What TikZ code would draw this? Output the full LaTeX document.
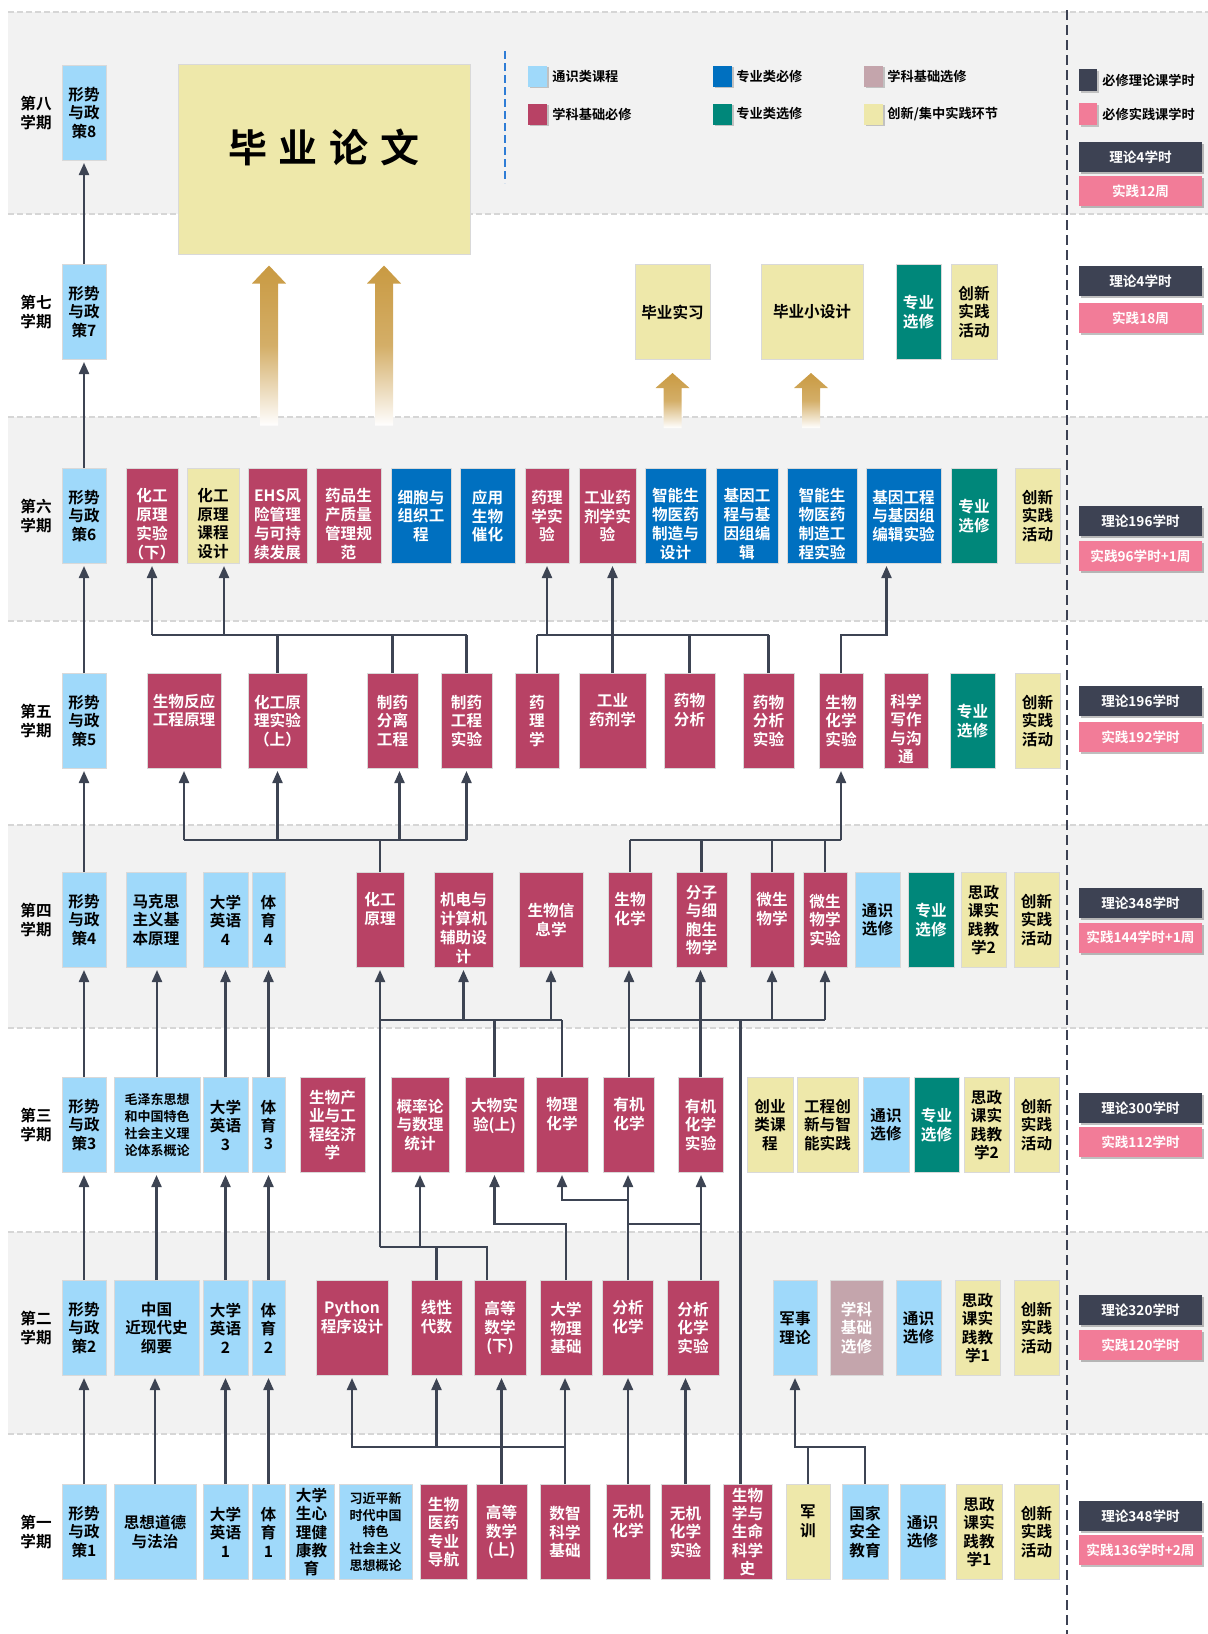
\documentclass[tikz,border=0pt]{standalone}
\usepackage{fontspec}
\setmainfont{Noto Sans CJK SC}[BoldFont={Noto Sans CJK SC Bold}]
\usepackage{tikz}
\usepackage{xcolor}
\usetikzlibrary{arrows.meta, calc, shadows}
\definecolor{GenFill}   {HTML}{9FD9FA}
\definecolor{CoreFill}  {HTML}{B84265}
\definecolor{MajFill}   {HTML}{0070C0}
\definecolor{EleFill}   {HTML}{00877A}
\definecolor{SelFill}   {HTML}{C4A5AC}
\definecolor{PracFill}  {HTML}{EEE8AA}
\definecolor{TheoryGray}{HTML}{3D4253}
\definecolor{PracPink}  {HTML}{F27C98}
\definecolor{BandGray}  {HTML}{F2F2F2}
\definecolor{SepGray}   {HTML}{D6D6D6}
\definecolor{BoxEdge}   {HTML}{D9D9D9}
\definecolor{LinkGray}  {HTML}{3D4453}
\definecolor{GoldArrow} {HTML}{C99A42}
\definecolor{LegBlue}   {HTML}{2F7DD6}
\tikzset{
  crs/.style={
    draw=BoxEdge, line width=0.5pt, inner sep=0pt,
    minimum height=47.5pt, align=center,
    font=\fontsize{7.8}{9.2}\selectfont\bfseries,
  },
  bw/.style={minimum width=#1*0.5pt},
  genbox/.style ={crs, fill=GenFill,  text=black},
  corebox/.style={crs, fill=CoreFill, text=white},
  majbox/.style ={crs, fill=MajFill,  text=white},
  elebox/.style ={crs, fill=EleFill,  text=white},
  selbox/.style ={crs, fill=SelFill,  text=white},
  pracbox/.style={crs, fill=PracFill, text=black},
  smalltxt/.style={font=\fontsize{6.5}{8.4}\selectfont\bfseries},
  semlbl/.style={align=center, inner sep=0pt,
    font=\fontsize{7.8}{9.2}\selectfont\bfseries},
  hourbox/.style={
    minimum width=61.5pt, minimum height=15pt, inner sep=0pt, text=white,
    font=\fontsize{6.8}{8}\selectfont\bfseries,
    drop shadow={shadow xshift=1pt, shadow yshift=-1pt, fill=black, opacity=0.25},
  },
  thbox/.style={hourbox, fill=TheoryGray},
  prbox/.style={hourbox, fill=PracPink},
  swatch/.style={minimum width=9.5pt, minimum height=10.5pt, inner sep=0pt,
    drop shadow={shadow xshift=0.8pt, shadow yshift=-0.8pt, fill=black, opacity=0.2}},
  legtxt/.style={anchor=west, inner sep=0pt,
    font=\fontsize{6.6}{8}\selectfont\bfseries},
  link/.style={draw=LinkGray, line width=1.1pt},
  arr/.style={link, -{Triangle[length=6pt,width=5pt]}, shorten >=1pt},
  sepline/.style={draw=SepGray, line width=1.2pt, dash pattern=on 3pt off 1.5pt},
  goldar/.style={top color=GoldArrow, bottom color=white,
    middle color=GoldArrow!80!white},
}
% text hung from the top of a course box
\newcommand{\toptxt}[1]{\vbox to 40pt{\vskip 6.3pt\hbox{\begin{tabular}[t]{@{}c@{}}#1\end{tabular}}\vss}}
% gold arrow: tip, head height, shaft length
\newcommand{\goldarrow}[3]{\shade[goldar] (#1) -- ++(17,#2) -- ++(-8,0) -- ++(0,#3)
  -- ++(-18,0) -- ++(0,-#3) -- ++(-8,0) -- cycle;}

\begin{document}
\begin{tikzpicture}[x=0.5pt, y=-0.5pt]
\useasboundingbox (0,0) rectangle (1208,1634);

% ── Bands ─────────────────────────────────────────────────────────────────
\foreach \t/\b in {12/214, 417/621, 825/1028, 1232/1434}
  \fill[BandGray] (8,\t) rectangle (1208,\b);
\foreach \y in {12,214,417,621,825,1028,1232,1434}
  \draw[sepline] (8,\y) -- (1208,\y);
\draw[TheoryGray, line width=1pt, dash pattern=on 5pt off 2.5pt] (1067,10) -- (1067,1634);
\draw[LegBlue, line width=1pt, dash pattern=on 4pt off 2pt] (505,51) -- (505,183);

% ── Semester labels / hours ───────────────────────────────────────────────
\foreach \n/\y/\t in {8/113/第八, 7/312/第七, 6/516/第六, 5/721/第五,
                      4/920/第四, 3/1125/第三, 2/1328/第二, 1/1532/第一}
  \node[semlbl] (sem\n) at (36,\y) {\t\\学期};

\foreach \n/\ya/\yb/\ta/\tb in {8/157/191/4学时/12周, 7/281/318/4学时/18周,
    6/521/556/196学时/96学时+1周, 5/701/737/196学时/192学时,
    4/903/937.5/348学时/144学时+1周, 3/1108/1142/300学时/112学时,
    2/1310/1345/320学时/120学时, 1/1516/1550/348学时/136学时+2周}{
  \node[thbox] (th\n) at (1140.5,\ya) {理论\ta};
  \node[prbox] (pr\n) at (1140.5,\yb) {实践\tb};
}

% ── Legend ────────────────────────────────────────────────────────────────
\node[swatch, fill=GenFill]  (lg1) at (537.5,76) {};
\node[legtxt] (lt1) at (552,76) {通识类课程};
\node[swatch, fill=MajFill]  (lg2) at (722.5,76) {};
\node[legtxt] (lt2) at (736,76) {专业类必修};
\node[swatch, fill=SelFill]  (lg3) at (873.5,76) {};
\node[legtxt] (lt3) at (887,76) {学科基础选修};
\node[swatch, fill=CoreFill] (lg4) at (537.5,114) {};
\node[legtxt] (lt4) at (552,114) {学科基础必修};
\node[swatch, fill=EleFill]  (lg5) at (722.5,114) {};
\node[legtxt] (lt5) at (736,114) {专业类选修};
\node[swatch, fill=PracFill] (lg6) at (873.5,114) {};
\node[legtxt] (lt6) at (887,114) {创新/集中实践环节};
\node[swatch, fill=TheoryGray, minimum width=9pt, minimum height=11pt] (rl1) at (1088,80) {};
\node[legtxt] (rt1) at (1102,80) {必修理论课学时};
\node[swatch, fill=PracPink, minimum width=9pt, minimum height=11pt] (rl2) at (1088,114) {};
\node[legtxt] (rt2) at (1102,114) {必修实践课学时};

% ── Courses ───────────────────────────────────────────────────────────────
\foreach \n/\y in {1/1532, 2/1328, 3/1125, 4/920, 5/721, 6/516, 7/312, 8/113}
  \node[genbox, bw=44] (p\n) at (84,\y) {形势\\与政\\策\n};

% semester 8 / 7
\node[pracbox, bw=292, minimum height=95pt, text depth=13pt,
      font=\fontsize{19.5}{22}\selectfont\bfseries] (lw) at (324,159)
  {毕\kern6pt 业\kern6pt 论\kern6pt 文};
\node[pracbox, bw=75]  (sx)  at (672.5,312) {毕业实习};
\node[pracbox, bw=102] (xsj) at (812,312)   {毕业小设计};
\node[elebox,  bw=45]  (zx7) at (918.5,312) {专业\\选修};
\node[pracbox, bw=46]  (cx7) at (974,312)   {创新\\实践\\活动};

% semester 6
\node[corebox, bw=52] (hgx)   at (152,516)    {\toptxt{化工\\原理\\实验\\（下）}};
\node[pracbox, bw=52] (hgk)   at (213,516)    {\toptxt{化工\\原理\\课程\\设计}};
\node[corebox, bw=59] (ehs)   at (277.5,516)  {\toptxt{EHS风\\险管理\\与可持\\续发展}};
\node[corebox, bw=65] (ypz)   at (348.5,516)  {\toptxt{药品生\\产质量\\管理规\\范}};
\node[majbox,  bw=60] (xbz)   at (421,516)    {细胞与\\组织工\\程};
\node[majbox,  bw=55] (yysw)  at (487.5,516)  {应用\\生物\\催化};
\node[corebox, bw=44] (ylsy)  at (547,516)    {药理\\学实\\验};
\node[corebox, bw=57] (gysy)  at (607.5,516)  {工业药\\剂学实\\验};
\node[majbox,  bw=61] (znsj)  at (675.5,516)  {\toptxt{智能生\\物医药\\制造与\\设计}};
\node[majbox,  bw=62] (jyg)   at (747,516)    {\toptxt{基因工\\程与基\\因组编\\辑}};
\node[majbox,  bw=70] (znsy)  at (822,516)    {\toptxt{智能生\\物医药\\制造工\\程实验}};
\node[majbox,  bw=75] (jygsy) at (903.5,516)  {基因工程\\与基因组\\编辑实验};
\node[elebox,  bw=46] (zx6)   at (974,516)    {专业\\选修};
\node[pracbox, bw=45] (cx6)   at (1037.5,516) {创新\\实践\\活动};

% semester 5
\node[corebox, bw=74] (swfy) at (184,721)    {\toptxt{生物反应\\工程原理}};
\node[corebox, bw=59] (hgs)  at (277.5,721)  {化工原\\理实验\\（上）};
\node[corebox, bw=51] (zyfl) at (392.5,721)  {制药\\分离\\工程};
\node[corebox, bw=51] (zygc) at (466.5,721)  {制药\\工程\\实验};
\node[corebox, bw=44] (ylx)  at (537,721)    {药\\理\\学};
\node[corebox, bw=67] (gyyj) at (612.5,721)  {\toptxt{工业\\药剂学}};
\node[corebox, bw=51] (ywfx) at (689.5,721)  {\toptxt{药物\\分析}};
\node[corebox, bw=51] (ywsy) at (768.5,721)  {药物\\分析\\实验};
\node[corebox, bw=44] (shsy) at (841,721)    {生物\\化学\\实验};
\node[corebox, bw=44] (kxxz) at (906,721)    {\toptxt{科学\\写作\\与沟\\通}};
\node[elebox,  bw=45] (zx5)  at (972.5,721)  {专业\\选修};
\node[pracbox, bw=45] (cx5)  at (1037.5,721) {创新\\实践\\活动};

% semester 4
\node[genbox,  bw=60] (mks)  at (156,920)    {马克思\\主义基\\本原理};
\node[genbox,  bw=45] (yy4)  at (225.5,920)  {大学\\英语\\4};
\node[genbox,  bw=33] (ty4)  at (268.5,920)  {体\\育\\4};
\node[corebox, bw=48] (hgyl) at (380,920)    {\toptxt{化工\\原理}};
\node[corebox, bw=59] (jd)   at (463.5,920)  {\toptxt{机电与\\计算机\\辅助设\\计}};
\node[corebox, bw=64] (sxx)  at (551,920)    {生物信\\息学};
\node[corebox, bw=44] (shhx) at (630,920)    {\toptxt{生物\\化学}};
\node[corebox, bw=51] (fzxb) at (701.5,920)  {分子\\与细\\胞生\\物学};
\node[corebox, bw=44] (wsw)  at (772,920)    {\toptxt{微生\\物学}};
\node[corebox, bw=44] (wsy)  at (825,920)    {微生\\物学\\实验};
\node[genbox,  bw=45] (tx4)  at (877.5,920)  {通识\\选修};
\node[elebox,  bw=46] (zx4)  at (931,920)    {专业\\选修};
\node[pracbox, bw=45] (sz4)  at (983.5,920)  {思政\\课实\\践教\\学2};
\node[pracbox, bw=45] (cx4)  at (1036.5,920) {创新\\实践\\活动};

% semester 3
\node[genbox, bw=86, smalltxt] (mzd) at (157,1125)
  {毛泽东思想\\和中国特色\\社会主义理\\论体系概论};
\node[genbox,  bw=45] (yy3)  at (225.5,1125)  {大学\\英语\\3};
\node[genbox,  bw=33] (ty3)  at (268.5,1125)  {体\\育\\3};
\node[corebox, bw=65] (swcy) at (332.5,1125)  {生物产\\业与工\\程经济\\学};
\node[corebox, bw=58] (gll)  at (420,1125)    {概率论\\与数理\\统计};
\node[corebox, bw=59] (dwsy) at (494.5,1125)  {\toptxt{大物实\\验(上)}};
\node[corebox, bw=52] (wlhx) at (562,1125)    {\toptxt{物理\\化学}};
\node[corebox, bw=51] (yjhx) at (629,1125)    {\toptxt{有机\\化学}};
\node[corebox, bw=45] (yjsy) at (700.5,1125)  {有机\\化学\\实验};
\node[pracbox, bw=46] (cy)   at (770,1125)    {创业\\类课\\程};
\node[pracbox, bw=61] (gccx) at (827.5,1125)  {工程创\\新与智\\能实践};
\node[genbox,  bw=46] (tx3)  at (886,1125)    {通识\\选修};
\node[elebox,  bw=45] (zx3)  at (936.5,1125)  {专业\\选修};
\node[pracbox, bw=45] (sz3)  at (986.5,1125)  {思政\\课实\\践教\\学2};
\node[pracbox, bw=45] (cx3)  at (1036.5,1125) {创新\\实践\\活动};

% semester 2
\node[genbox,  bw=85] (zgjd) at (156.5,1328)  {中国\\近现代史\\纲要};
\node[genbox,  bw=45] (yy2)  at (225.5,1328)  {大学\\英语\\2};
\node[genbox,  bw=33] (ty2)  at (268.5,1328)  {体\\育\\2};
\node[corebox, bw=72] (py)   at (352,1328)    {\toptxt{Python\\程序设计}};
\node[corebox, bw=51] (xxds) at (436.5,1328)  {\toptxt{线性\\代数}};
\node[corebox, bw=52] (gsx)  at (500,1328)    {高等\\数学\\(下)};
\node[corebox, bw=52] (dwl)  at (566,1328)    {大学\\物理\\基础};
\node[corebox, bw=51] (fxhx) at (628,1328)    {\toptxt{分析\\化学}};
\node[corebox, bw=52] (fxsy) at (693,1328)    {分析\\化学\\实验};
\node[genbox,  bw=44] (js)   at (795,1328)    {军事\\理论};
\node[selbox,  bw=53] (xkxx) at (856.5,1328)  {学科\\基础\\选修};
\node[genbox,  bw=45] (tx2)  at (918.5,1328)  {通识\\选修};
\node[pracbox, bw=45] (sz2)  at (977.5,1328)  {思政\\课实\\践教\\学1};
\node[pracbox, bw=45] (cx2)  at (1036.5,1328) {创新\\实践\\活动};

% semester 1
\node[genbox,  bw=82] (sxdd) at (155,1532)    {思想道德\\与法治};
\node[genbox,  bw=45] (yy1)  at (225.5,1532)  {大学\\英语\\1};
\node[genbox,  bw=33] (ty1)  at (268.5,1532)  {体\\育\\1};
\node[genbox,  bw=45] (xlj)  at (311.5,1532)  {大学\\生心\\理健\\康教\\育};
\node[genbox, bw=73, smalltxt] (xjp) at (375.5,1532)
  {习近平新\\时代中国\\特色\\社会主义\\思想概论};
\node[corebox, bw=47] (dh)   at (443.5,1532)  {生物\\医药\\专业\\导航};
\node[corebox, bw=51] (gss)  at (501.5,1532)  {高等\\数学\\(上)};
\node[corebox, bw=50] (szkx) at (565,1532)    {数智\\科学\\基础};
\node[corebox, bw=44] (wjhx) at (628,1532)    {\toptxt{无机\\化学}};
\node[corebox, bw=49] (wjsy) at (685.5,1532)  {无机\\化学\\实验};
\node[corebox, bw=49] (swsm) at (747.5,1532)  {生物\\学与\\生命\\科学\\史};
\node[pracbox, bw=44] (jx)   at (808,1532)    {\toptxt{军\\训}};
\node[genbox,  bw=46] (gjaq) at (865,1532)    {国家\\安全\\教育};
\node[genbox,  bw=45] (tx1)  at (922.5,1532)  {通识\\选修};
\node[pracbox, bw=46] (sz1)  at (979,1532)    {思政\\课实\\践教\\学1};
\node[pracbox, bw=45] (cx1)  at (1036.5,1532) {创新\\实践\\活动};

% ── Connectors ────────────────────────────────────────────────────────────
\foreach \a/\b in {p1/p2, p2/p3, p3/p4, p4/p5, p5/p6, p6/p7, p7/p8,
                   sxdd/zgjd, zgjd/mzd, mzd/mks,
                   yy1/yy2, yy2/yy3, yy3/yy4, ty1/ty2, ty2/ty3, ty3/ty4}
  \draw[arr] (\a.north) -- (\a.north |- \b.south);

% semester 1 -> 2
\coordinate (b12) at (0,1447);
\draw[arr] (szkx.north) |- (py.south |- b12) -- (py.south);
\draw[arr] (szkx.north |- b12) -| (xxds.south);
\draw[arr] (szkx.north) -- (szkx.north |- dwl.south);
\draw[arr] (gss.north) -- (gss.north |- gsx.south);
\draw[arr] (wjhx.north) -- (wjhx.north |- fxhx.south);
\draw[arr] (wjsy.north) -- (wjsy.north |- fxsy.south);
\draw[arr] (jx.north) |- (js.south |- b12) -- (js.south);
\draw[link] (gjaq.north) |- (jx.north |- b12);

% semester 2 -> 3
\coordinate (b23a) at (0,1247);
\coordinate (b23b) at (0,1224);
\coordinate (b23c) at (0,1200);
\coordinate (gsxtop)  at ($(gsx.north)+(-13,0)$);
\coordinate (fxsytop) at ($(fxsy.north)+(8,0)$);
\draw[link] (gsxtop) |- (hgyl.south |- b23a);
\draw[link] (xxds.north) -- (xxds.north |- b23a);
\draw[arr] (gll.south |- b23a) -- (gll.south);
\draw[arr] (hgyl.south |- b23a) -- (hgyl.south);
\draw[arr] (dwl.north) |- (dwsy.south |- b23b) -- (dwsy.south);
\draw[arr] (fxhx.north) -- (fxhx.north |- yjhx.south);
\draw[arr] (fxhx.north |- b23c) -| (wlhx.south);
\draw[arr] (fxsytop) -- (fxsytop |- yjsy.south);
\draw[link] (fxhx.north |- b23b) -- (fxsytop |- b23b);

% semester 3 -> 4
\coordinate (b34) at (0,1020);
\coordinate (swsmtop) at ($(swsm.north)+(-7,0)$);
\draw[link] (hgyl.south |- b34) -- (wlhx.north |- b34);
\draw[link] (dwsy.north) -- (dwsy.north |- b34);
\draw[link] (wlhx.north) -- (wlhx.north |- b34);
\draw[arr] (jd.south |- b34) -- (jd.south);
\draw[arr] (sxx.south |- b34) -- (sxx.south);
\draw[arr] (yjhx.north) -- (yjhx.north |- shhx.south);
\draw[arr] (yjsy.north) -- (yjsy.north |- fzxb.south);
\draw[link] (swsmtop) -- (swsmtop |- b34);
\draw[link] (yjhx.north |- b34) -- (wsy.south |- b34);
\draw[arr] (wsw.south |- b34) -- (wsw.south);
\draw[arr] (wsy.south |- b34) -- (wsy.south);

% semester 4 -> 5
\coordinate (b45) at (0,840);
\coordinate (zyflbot) at ($(zyfl.south)+(7,0)$);
\draw[link] (hgyl.north) -- (hgyl.north |- b45);
\draw[link] (swfy.south |- b45) -- (zygc.south |- b45);
\foreach \t in {swfy, hgs, zygc}
  \draw[arr] (\t.south |- b45) -- (\t.south);
\draw[arr] (zyflbot |- b45) -- (zyflbot);
\foreach \s in {shhx, fzxb, wsw, wsy}
  \draw[link] (\s.north) -- (\s.north |- b45);
\draw[link] (shhx.north |- b45) -- (shsy.south |- b45);
\draw[arr] (shsy.south |- b45) -- (shsy.south);

% semester 5 -> 6
\coordinate (b56) at (0,635);
\coordinate (hgkbot) at ($(hgk.south)+(11,0)$);
\coordinate (jygbot) at ($(jygsy.south)+(-17,0)$);
\foreach \s in {hgs, zyfl, zygc, ylx, ywfx, ywsy}
  \draw[link] (\s.north) -- (\s.north |- b56);
\draw[link] (hgx.south |- b56) -- (zygc.north |- b56);
\draw[link] (ylx.north |- b56) -- (ywsy.north |- b56);
\draw[arr] (hgx.south |- b56) -- (hgx.south);
\draw[arr] (hgkbot |- b56) -- (hgkbot);
\draw[arr] (ylsy.south |- b56) -- (ylsy.south);
\draw[arr] (gyyj.north) -- (gyyj.north |- gysy.south);
\draw[arr] (shsy.north) |- (jygbot |- b56) -- (jygbot);

% ── Gold arrows into graduation work ──────────────────────────────────────
\coordinate (ga1) at ($(lw.south)+(-55,11)$);
\coordinate (ga2) at ($(lw.south)+(60,11)$);
\coordinate (ga3) at ($(sx.south)+(0,13)$);
\coordinate (ga4) at ($(xsj.south)+(-1,13)$);
\goldarrow{ga1}{18}{142}
\goldarrow{ga2}{18}{142}
\goldarrow{ga3}{15}{40}
\goldarrow{ga4}{15}{40}

\end{tikzpicture}
\end{document}
